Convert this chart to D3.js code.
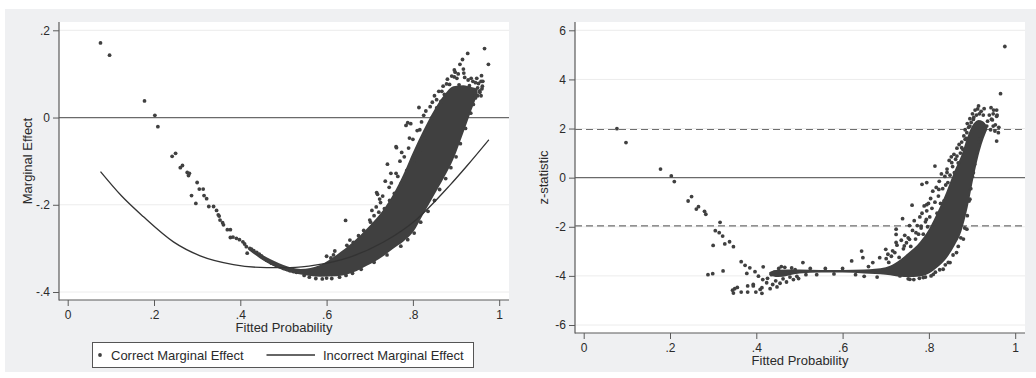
<!DOCTYPE html>
<html>
<head>
<meta charset="utf-8">
<script src="https://cdn.jsdelivr.net/npm/d3@7"></script>
<style>
  html, body { margin: 0; padding: 0; background: #fff; }
  svg { display: block; font-family: "Liberation Sans", Arial, sans-serif; }
</style>
</head>
<body>
<svg id="chart" width="1036" height="378"></svg>
<script>
// ---- data ----
const probTicks = [0, 0.2, 0.4, 0.6, 0.8, 1];
const meTicks = [-0.4, -0.2, 0, 0.2];
const zTicks = [-6, -4, -2, 0, 2, 4, 6];
const zCritical = [-1.96, 1.96];

// correct marginal effect, [fitted prob, effect]
const correctME = [
  [0.076,0.171],[0.097,0.143],[0.178,0.038],[0.202,0.005],[0.209,-0.021],
  [0.242,-0.089],[0.250,-0.082],[0.261,-0.115],[0.266,-0.110],[0.277,-0.126],[0.280,-0.133],[0.282,-0.128],
  [0.287,-0.179],[0.297,-0.197],[0.300,-0.149],[0.305,-0.164],[0.314,-0.164],[0.316,-0.179],[0.322,-0.186],
  [0.327,-0.204],[0.338,-0.204],[0.345,-0.213],[0.349,-0.223],[0.351,-0.226],[0.353,-0.235],[0.359,-0.241],
  [0.361,-0.246],[0.370,-0.257],[0.377,-0.257],
  [0.377,-0.275],[0.383,-0.274],[0.391,-0.277],[0.398,-0.280],[0.406,-0.285],[0.410,-0.290],[0.414,-0.296],
  [0.416,-0.311],[0.422,-0.300],[0.426,-0.302],[0.431,-0.305],[0.438,-0.309],[0.444,-0.313],[0.449,-0.317],
  [0.455,-0.323],[0.461,-0.327],[0.467,-0.330],[0.472,-0.334],[0.478,-0.336],[0.484,-0.339],[0.492,-0.342],
  [0.500,-0.346],[0.507,-0.348],[0.515,-0.351],[0.523,-0.353],[0.530,-0.355],
  [0.548,-0.362],[0.560,-0.366],[0.575,-0.369],[0.590,-0.370],[0.600,-0.368],[0.612,-0.369],[0.630,-0.366],
  [0.645,-0.362],[0.660,-0.357],
  [0.600,-0.318],[0.616,-0.315],[0.619,-0.306],[0.610,-0.322],[0.644,-0.236],[0.647,-0.293],[0.654,-0.281],
  [0.662,-0.286],[0.674,-0.271],[0.686,-0.259],[0.702,-0.240],[0.705,-0.213],[0.716,-0.172],[0.718,-0.176],
  [0.721,-0.217],[0.723,-0.187],[0.734,-0.209],[0.736,-0.146],[0.741,-0.107],[0.746,-0.190],[0.749,-0.128],
  [0.757,-0.174],[0.761,-0.067],[0.761,-0.128],[0.762,-0.069],[0.773,-0.151],[0.774,-0.080],[0.784,-0.018],
  [0.786,-0.121],[0.788,-0.012],[0.792,-0.047],[0.795,-0.014],[0.805,-0.098],[0.814,0.023],[0.816,-0.028],
  [0.816,-0.075],[0.828,-0.046],[0.836,-0.024],[0.840,0.025],[0.844,-0.001],[0.855,0.041],[0.855,0.022],
  [0.865,0.037],[0.867,0.060],[0.873,0.053],[0.878,0.077],[0.885,0.076],[0.896,0.093],[0.896,0.109],
  [0.898,0.104],[0.902,0.090],[0.907,0.075],[0.909,0.122],[0.915,0.133],[0.917,0.111],[0.918,0.102],
  [0.927,0.147],[0.928,0.086],[0.931,0.073],[0.939,0.083],[0.942,0.057],[0.948,0.090],[0.950,0.068],
  [0.955,0.061],[0.958,0.083],[0.959,0.096],[0.961,0.072],[0.962,0.083],[0.966,0.158],[0.975,0.122],
  [0.700,-0.235],[0.710,-0.225],[0.715,-0.205],[0.725,-0.195],[0.730,-0.180],[0.745,-0.160],[0.750,-0.150],
  [0.765,-0.135],[0.770,-0.100],[0.780,-0.090],[0.790,-0.070],[0.800,-0.050],[0.810,-0.030],[0.820,-0.010],
  [0.825,0.005],[0.830,0.015],[0.845,0.035],[0.850,0.050],[0.860,0.060],[0.870,0.072],[0.880,0.088],
  [0.890,0.095],[0.905,0.100],[0.920,0.092],[0.935,0.090],[0.945,0.080],[0.952,0.078],[0.960,0.066],
  [0.940,0.030],[0.945,0.045],[0.950,0.050],[0.955,0.058],[0.958,0.050],
  [0.934,0.010],[0.922,-0.025],[0.910,-0.060],[0.900,-0.090],[0.888,-0.115],[0.876,-0.140],[0.862,-0.165],
  [0.850,-0.190],[0.835,-0.215],[0.818,-0.240],[0.803,-0.265],[0.788,-0.280],[0.772,-0.295],[0.740,-0.315],
  [0.710,-0.332],[0.680,-0.348]
];
// dense core of the correct-effect cloud
const meCoreX  = [0.42, 0.46, 0.50, 0.54, 0.585, 0.623, 0.662, 0.693, 0.731, 0.755, 0.778, 0.801, 0.824, 0.848, 0.871, 0.894, 0.917, 0.935, 0.950];
const meCoreHi = [-0.296,-0.320,-0.338,-0.347,-0.338,-0.315,-0.285,-0.255,-0.212,-0.175,-0.130,-0.078,-0.030,0.015,0.050,0.072,0.074,0.070,0.066];
const meCoreLo = [-0.304,-0.332,-0.350,-0.360,-0.365,-0.364,-0.355,-0.340,-0.318,-0.300,-0.284,-0.262,-0.222,-0.180,-0.140,-0.095,-0.035,0.015,0.054];

// incorrect marginal effect line
const incorrectME = [
  [0.076,-0.124],[0.125,-0.180],[0.175,-0.227],[0.245,-0.285],[0.307,-0.317],[0.384,-0.337],[0.461,-0.344],
  [0.515,-0.344],[0.577,-0.338],[0.654,-0.320],[0.731,-0.286],[0.809,-0.233],[0.886,-0.155],[0.926,-0.110],
  [0.976,-0.051]
];

// z-statistic, [fitted prob, z]
const zStat = [
  [0.077,1.995],[0.098,1.43],[0.178,0.35],[0.203,0.07],[0.210,-0.16],[0.242,-0.95],[0.250,-0.77],
  [0.261,-1.28],[0.266,-1.18],[0.280,-1.37],[0.283,-1.49],[0.288,-3.95],[0.299,-3.91],[0.300,-2.76],
  [0.305,-2.16],[0.314,-2.24],[0.316,-1.82],[0.322,-2.38],[0.323,-3.80],[0.327,-2.70],[0.338,-2.61],
  [0.347,-2.81],[0.345,-4.58],[0.347,-4.70],[0.350,-4.52],[0.356,-4.47],
  [0.365,-3.42],[0.365,-4.66],[0.374,-3.57],[0.378,-3.90],[0.380,-4.41],[0.380,-4.66],[0.385,-3.67],
  [0.393,-4.35],[0.393,-4.41],[0.397,-3.83],[0.399,-4.66],[0.405,-4.01],[0.409,-4.55],[0.413,-4.71],
  [0.413,-4.48],[0.415,-4.15],[0.416,-3.63],[0.424,-4.28],[0.426,-4.10],[0.432,-4.52],[0.435,-3.95],
  [0.438,-4.35],[0.442,-3.85],[0.445,-4.20],[0.448,-4.45],[0.452,-3.70],[0.455,-4.30],[0.458,-3.62],
  [0.462,-4.12],[0.466,-3.65],[0.470,-4.25],[0.474,-3.90],[0.478,-4.05],[0.482,-3.68],[0.486,-4.15],
  [0.490,-3.75],[0.494,-4.02],[0.498,-4.11],[0.508,-3.46],[0.515,-3.95],[0.525,-3.70],[0.540,-3.95],
  [0.560,-3.70],[0.580,-3.92],[0.600,-3.70],[0.621,-3.39],[0.630,-3.95],[0.644,-2.99],[0.647,-3.26],
  [0.650,-4.02],[0.660,-3.62],[0.670,-3.46],[0.680,-4.05],[0.686,-3.26],[0.700,-2.92],[0.705,-3.12],
  [0.716,-2.98],[0.724,-2.31],[0.724,-2.64],[0.724,-2.10],[0.739,-1.67],[0.743,-2.78],[0.755,-2.51],
  [0.761,-1.12],[0.770,-2.24],[0.782,-1.97],[0.784,-0.27],[0.794,-1.70],[0.795,-0.20],[0.795,-1.10],
  [0.814,0.47],[0.823,-0.48],[0.842,0.21],[0.853,0.61],[0.865,0.88],[0.876,1.22],[0.884,1.56],
  [0.888,1.83],[0.895,2.10],[0.903,2.37],[0.915,2.92],[0.928,2.81],[0.944,2.85],[0.949,2.60],
  [0.957,2.75],[0.957,2.50],[0.957,1.49],[0.961,1.83],[0.966,3.42],[0.976,5.34],
  [0.733,-4.00],[0.756,-4.14],[0.787,-4.07],[0.810,-3.94],[0.833,-3.73],[0.849,-3.46],[0.864,-3.05],
  [0.880,-2.50],[0.888,-2.10],[0.895,-0.88],[0.903,0.20],[0.911,1.02],[0.918,1.56],[0.934,2.10],
  [0.945,2.38],[0.949,2.10],[0.953,1.90],
  [0.701,-3.30],[0.707,-3.45],[0.713,-3.20],[0.721,-3.05],[0.726,-2.75],[0.731,-3.25],[0.736,-2.55],
  [0.741,-2.90],[0.744,-2.35],[0.748,-2.65],[0.752,-2.45],[0.755,-1.95],[0.758,-2.80],[0.762,-2.15],
  [0.766,-1.75],[0.769,-2.50],[0.773,-1.95],[0.776,-2.30],[0.779,-1.60],[0.782,-2.05],[0.784,-1.45],
  [0.787,-2.30],[0.789,-1.15],[0.792,-1.80],[0.795,-1.35],[0.797,-2.00],[0.799,-1.05],[0.802,-1.60],
  [0.804,-0.85],[0.807,-1.25],[0.809,-0.55],[0.812,-1.90],[0.814,-1.00],[0.817,-0.40],[0.819,-1.45],
  [0.822,-0.75],[0.824,-0.15],[0.827,-1.05],[0.829,0.15],[0.832,-0.45],[0.835,-0.95],[0.837,0.05],
  [0.839,-0.30],[0.842,0.35],[0.844,-0.20],[0.847,0.70],[0.849,0.10],[0.852,0.85],[0.855,0.45],
  [0.858,0.95],[0.859,0.20],[0.862,0.75],[0.865,1.20],[0.868,0.60],[0.870,1.35],[0.873,1.00],
  [0.876,1.45],[0.879,1.15],[0.881,1.70],[0.884,1.95],[0.887,1.60],[0.889,2.20],[0.892,2.05],
  [0.895,2.40],[0.898,2.25],[0.901,2.60],[0.904,2.45],[0.907,2.75],[0.910,2.55],[0.913,2.80],
  [0.917,2.60],[0.921,2.70],[0.926,2.55],
  [0.752,-4.12],[0.765,-4.15],[0.778,-4.10],[0.792,-4.05],[0.805,-4.00],[0.815,-3.85],[0.825,-3.75],
  [0.838,-3.55],[0.845,-3.45],[0.856,-3.15],[0.868,-2.80],[0.874,-2.45],[0.883,-2.05],[0.889,-1.55],
  [0.893,-0.95],[0.897,-0.45],[0.901,0.05],[0.906,0.55],[0.912,1.05],[0.917,1.45],[0.923,1.75],
  [0.929,2.00],[0.936,2.30],[0.940,2.55],[0.943,1.95],[0.947,2.35],[0.950,2.75],[0.954,2.15],
  [0.958,2.55],[0.962,2.05]
];
const zCoreX  = [0.43, 0.45, 0.50, 0.55, 0.60, 0.65, 0.70, 0.72, 0.75, 0.78, 0.80, 0.82, 0.84, 0.86, 0.875, 0.89, 0.90, 0.915, 0.925, 0.935];
const zCoreHi = [-3.85,-3.75,-3.74,-3.76,-3.76,-3.74,-3.65,-3.50,-3.10,-2.60,-2.10,-1.40,-0.60,0.30,0.90,1.70,2.10,2.35,2.30,2.10];
const zCoreLo = [-3.95,-4.05,-3.90,-3.86,-3.86,-3.90,-3.95,-4.00,-4.05,-4.02,-3.90,-3.65,-3.30,-2.75,-2.20,-1.20,-0.30,0.90,1.50,1.95];

// ---- drawing ----
const INK = '#404040';
const AXIS = '#5a5a5a';
const svg = d3.select('#chart');

const locale = d3.formatLocale({ decimal: '.', thousands: ',', grouping: [3], currency: ['', ''], minus: '-' });
const baseFmt = locale.format('');
const stataFmt = v => baseFmt(v).replace(/^(-?)0\./, '$1.');

// graph region
svg.append('rect')
  .attr('x', 5).attr('y', 9).attr('width', 1031).attr('height', 363)
  .attr('fill', '#eff0f2');

function drawPanel(o) {
  const [l, t, r, b] = o.box;
  const x = d3.scaleLinear().domain([0, 1]).range(o.xRange);
  const y = d3.scaleLinear().domain(o.yDomain).range(o.yRange);
  const g = svg.append('g');

  g.append('rect')
    .attr('x', l).attr('y', t).attr('width', r - l).attr('height', b - t)
    .attr('fill', '#fff');

  // horizontal grid
  g.append('g').selectAll('line')
    .data(o.yTicks.filter(d => d !== 0))
    .join('line')
    .attr('x1', l).attr('x2', r)
    .attr('y1', d => y(d)).attr('y2', d => y(d))
    .attr('stroke', '#ececec').attr('stroke-width', 1);

  // reference line at zero
  g.append('line')
    .attr('x1', l).attr('x2', r)
    .attr('y1', y(0)).attr('y2', y(0))
    .attr('stroke', '#6a6a6a').attr('stroke-width', 1.2);

  // axes
  const yAxis = g.append('g')
    .attr('transform', `translate(${l},0)`)
    .call(d3.axisLeft(y).tickValues(o.yTicks).tickFormat(stataFmt).tickSize(6).tickPadding(3));
  const xAxis = g.append('g')
    .attr('transform', `translate(0,${b})`)
    .call(d3.axisBottom(x).tickValues(probTicks).tickFormat(stataFmt).tickSize(6).tickPadding(4));
  [yAxis, xAxis].forEach(a => {
    a.select('.domain').remove();
    a.selectAll('line').attr('stroke', AXIS);
    a.selectAll('text').attr('fill', '#2b2b2b').style('font-size', '12px')
      .style('font-family', '"Liberation Sans", Arial, sans-serif');
  });
  g.append('line').attr('x1', l).attr('x2', l).attr('y1', t).attr('y2', b + 0.5)
    .attr('stroke', AXIS).attr('stroke-width', 1.2);
  g.append('line').attr('x1', l).attr('x2', r).attr('y1', b).attr('y2', b)
    .attr('stroke', AXIS).attr('stroke-width', 1.2);

  // axis titles
  g.append('text')
    .attr('x', (l + r) / 2).attr('y', b + 32)
    .attr('text-anchor', 'middle').attr('fill', '#2b2b2b')
    .style('font-size', '13px')
    .text('Fitted Probability');
  g.append('text')
    .attr('transform', `translate(${o.yTitleX},${(t + b) / 2}) rotate(-90)`)
    .attr('dy', '0.35em')
    .attr('text-anchor', 'middle').attr('fill', '#2b2b2b')
    .style('font-size', '13px')
    .text(o.yTitle);

  return { g, x, y };
}

function drawCloud(p, points, coreX, coreHi, coreLo) {
  const core = coreX.map((d, i) => ({ x: d, hi: coreHi[i], lo: coreLo[i] }));
  const area = d3.area()
    .x(d => p.x(d.x)).y0(d => p.y(d.lo)).y1(d => p.y(d.hi))
    .curve(d3.curveMonotoneX);
  p.g.append('path').datum(core).attr('d', area).attr('fill', INK);
  p.g.append('g').selectAll('circle')
    .data(points)
    .join('circle')
    .attr('cx', d => p.x(d[0]))
    .attr('cy', d => p.y(d[1]))
    .attr('r', 1.9)
    .attr('fill', INK);
}

// left: marginal effects
const left = drawPanel({
  box: [59, 22, 509, 300],
  xRange: [67.7, 499.2],
  yDomain: [-0.4, 0.2], yRange: [292, 30.3],
  yTicks: meTicks,
  yTitle: 'Marginal Effect', yTitleX: 27
});
drawCloud(left, correctME, meCoreX, meCoreHi, meCoreLo);
left.g.append('path')
  .datum(incorrectME)
  .attr('d', d3.line().x(d => left.x(d[0])).y(d => left.y(d[1])).curve(d3.curveMonotoneX))
  .attr('fill', 'none').attr('stroke', '#333').attr('stroke-width', 1.3);

// right: z statistics
const right = drawPanel({
  box: [575, 22, 1025, 333],
  xRange: [583.7, 1015.2],
  yDomain: [-6, 6], yRange: [325, 30.3],
  yTicks: zTicks,
  yTitle: 'z-statistic', yTitleX: 543
});
right.g.append('g').selectAll('line')
  .data(zCritical)
  .join('line')
  .attr('x1', 575).attr('x2', 1025)
  .attr('y1', d => right.y(d)).attr('y2', d => right.y(d))
  .attr('stroke', '#6e6e6e').attr('stroke-width', 1.2)
  .attr('stroke-dasharray', '7,4');
drawCloud(right, zStat, zCoreX, zCoreHi, zCoreLo);

// legend (left panel only)
const lg = svg.append('g');
lg.append('rect')
  .attr('x', 92.5).attr('y', 342.5).attr('width', 381).attr('height', 25)
  .attr('fill', '#fff').attr('stroke', '#555').attr('stroke-width', 1);
lg.append('circle').attr('cx', 100).attr('cy', 355).attr('r', 1.9).attr('fill', INK);
lg.append('text').attr('x', 111).attr('y', 359.5).attr('fill', '#2b2b2b')
  .style('font-size', '13px').text('Correct Marginal Effect');
lg.append('line').attr('x1', 266.5).attr('x2', 315).attr('y1', 355).attr('y2', 355)
  .attr('stroke', '#333').attr('stroke-width', 1.3);
lg.append('text').attr('x', 323).attr('y', 359.5).attr('fill', '#2b2b2b')
  .style('font-size', '13px').text('Incorrect Marginal Effect');
</script>
</body>
</html>
